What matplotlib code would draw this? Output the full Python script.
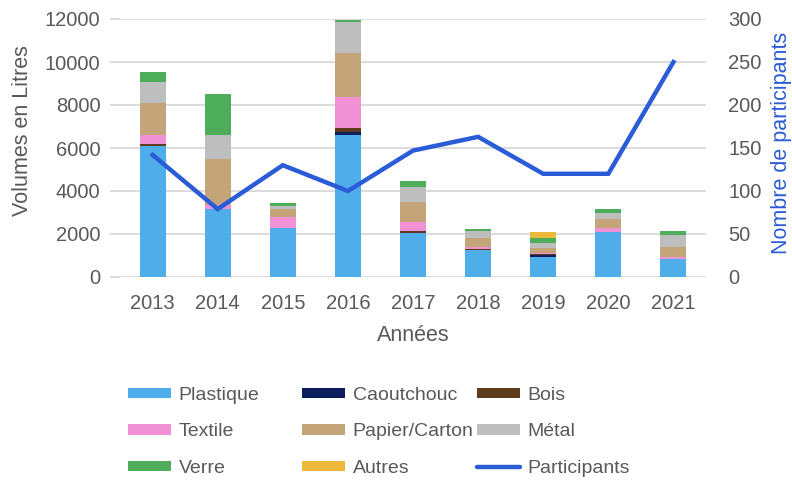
import matplotlib
matplotlib.use("Agg")
import matplotlib.pyplot as plt
import numpy as np
from matplotlib.patches import Patch
from matplotlib.lines import Line2D

plt.rcParams['font.family'] = ['Liberation Sans', 'DejaVu Sans']

years = ['2013', '2014', '2015', '2016', '2017', '2018', '2019', '2020', '2021']
plastique = [6100, 3160, 2290, 6600, 2030, 1250, 916, 2080, 840]
caoutchouc = [0, 0, 0, 125, 0, 0, 93, 0, 0]
bois = [80, 0, 0, 215, 120, 65, 47, 0, 0]
textile = [410, 190, 485, 1415, 420, 65, 44, 200, 75]
papier = [1500, 2140, 390, 2050, 930, 420, 233, 400, 480]
metal = [960, 1100, 150, 1440, 700, 340, 264, 280, 545]
verre = [465, 1910, 140, 105, 265, 80, 203, 215, 200]
autres = [0, 0, 0, 0, 0, 0, 278, 0, 0]
participants = [142, 79, 130, 100, 147, 163, 120, 120, 250]

series = [
    ('Plastique', plastique, '#4FADEA'),
    ('Caoutchouc', caoutchouc, '#0C1F5C'),
    ('Bois', bois, '#5E3B1A'),
    ('Textile', textile, '#F090D5'),
    ('Papier/Carton', papier, '#C4A57A'),
    ('Métal', metal, '#BEBEBE'),
    ('Verre', verre, '#4EAD5B'),
    ('Autres', autres, '#EDB93A'),
]
line_color = '#2B5CD7'
txt = '#595959'
fs = 14.5
lfs = 15.5
legfs = 14

fig = plt.figure(figsize=(7.92, 4.8), dpi=100)
ax = fig.add_axes([120/792, 1-277/480, 586/792, 258/480])
x = np.arange(len(years))
bottom = np.zeros(len(years))
for name, vals, col in series:
    v = np.array(vals, dtype=float)
    ax.bar(x, v, 0.4, bottom=bottom, color=col, zorder=2)
    bottom += v

ax.set_xlim(-0.5, len(years) - 0.5)
ax.set_ylim(0, 12000)
ax.set_yticks(np.arange(0, 12001, 2000))
ax.set_xticks(x)
ax.set_xticklabels(years)
ax.grid(axis='y', color='#D9D9D9', lw=1.3, zorder=0)
ax.set_axisbelow(True)
for s in ax.spines.values():
    s.set_visible(False)
ax.tick_params(axis='y', colors='#D9D9D9', labelcolor=txt, labelsize=fs, length=7, width=1.3, pad=7)
ax.tick_params(axis='x', length=0, labelcolor=txt, labelsize=fs, pad=12)
ax.set_xlabel('Années', color=txt, fontsize=lfs, labelpad=9)
fig.text(23/792, 1-131/480, 'Volumes en Litres', color=txt, fontsize=lfs,
         rotation=90, ha='center', va='center')

ax2 = ax.twinx()
ax2.set_position([120/792, 1-277/480, 586/792, 258/480])
ax2.plot(x, participants, color=line_color, lw=3.2, zorder=3, solid_joinstyle='miter')
ax2.set_ylim(0, 300)
ax2.set_yticks(np.arange(0, 301, 50))
for s in ax2.spines.values():
    s.set_visible(False)
ax2.tick_params(axis='y', length=0, labelcolor=txt, labelsize=fs, pad=16)
fig.text(781/792, 1-142.5/480, 'Nombre de participants', color=line_color, fontsize=lfs,
         rotation=90, ha='center', va='center')

# legend in three columns
handles = {name: Patch(facecolor=col, edgecolor='none') for name, _, col in series}
handles['Participants'] = Line2D([], [], color=line_color, lw=3.2, solid_capstyle='round')
cols = [
    (128, ['Plastique', 'Textile', 'Verre']),
    (302, ['Caoutchouc', 'Papier/Carton', 'Autres']),
    (477, ['Bois', 'Métal', 'Participants']),
]
for xpix, names in cols:
    leg = fig.legend([handles[n] for n in names], names, loc='upper left',
                     bbox_to_anchor=(xpix/792, 1-387/480), frameon=False,
                     fontsize=legfs, handlelength=2.2, handleheight=0.45,
                     handletextpad=0.4, labelspacing=1.0, borderpad=0,
                     borderaxespad=0)
    for t in leg.get_texts():
        t.set_color(txt)

fig.savefig('out.png', dpi=100)
